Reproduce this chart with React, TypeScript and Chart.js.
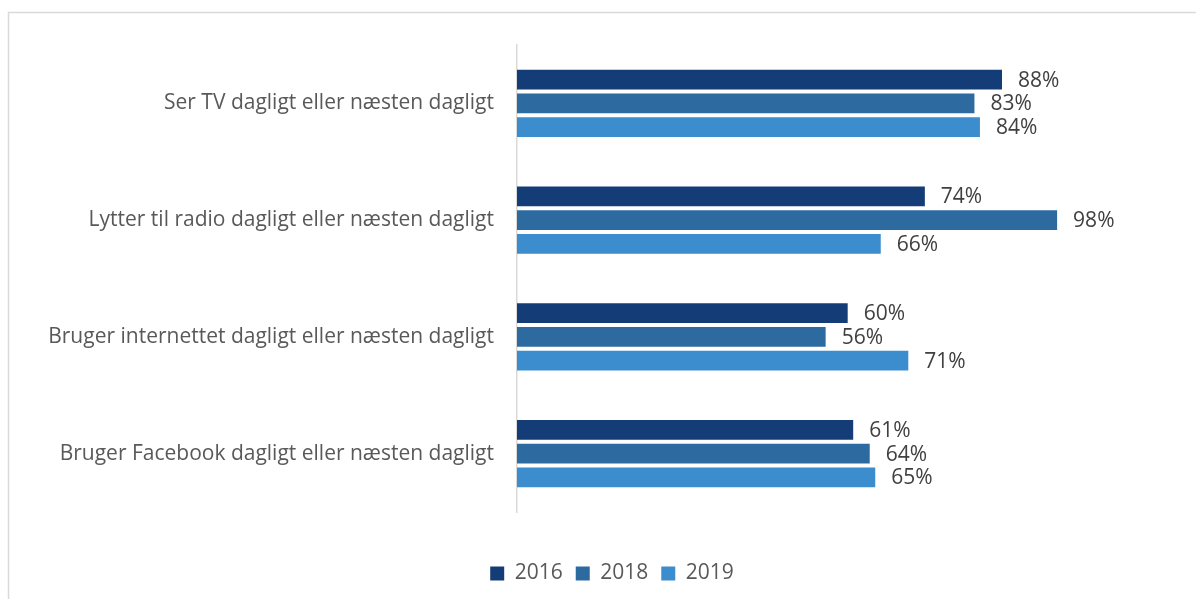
import React, { useEffect, useRef } from "react";
import { Chart, registerables } from "chart.js";

Chart.register(...registerables);

const categories = [
  "Ser TV dagligt eller næsten dagligt",
  "Lytter til radio dagligt eller næsten dagligt",
  "Bruger internettet dagligt eller næsten dagligt",
  "Bruger Facebook dagligt eller næsten dagligt",
];
const seriesNames = ["2016", "2018", "2019"];
const values2016 = [88, 74, 60, 61];
const values2018 = [83, 98, 56, 64];
const values2019 = [84, 66, 71, 65];
const seriesColors = ["#143C77", "#2C6AA0", "#3B8DCD"];

const FONT = "'Open Sans', 'Noto Sans', sans-serif";
const FONT_SIZE = 21;
const X_MAX = 123.2;

const framePlugin = {
  id: "frame",
  beforeDraw(chart: any) {
    const ctx = chart.ctx;
    ctx.save();
    ctx.fillStyle = "#ffffff";
    ctx.fillRect(0, 0, chart.width, chart.height);
    ctx.strokeStyle = "#d9d9d9";
    ctx.lineWidth = 1.5;
    ctx.beginPath();
    ctx.moveTo(8.5, chart.height + 2);
    ctx.lineTo(8.5, 12.5);
    ctx.lineTo(chart.width + 2, 12.5);
    ctx.stroke();
    ctx.restore();
  },
};

const valueLabelPlugin = {
  id: "valueLabels",
  afterDatasetsDraw(chart: any) {
    const ctx = chart.ctx;
    ctx.save();
    ctx.font = `${FONT_SIZE}px ${FONT}`;
    ctx.fillStyle = "#404040";
    ctx.textAlign = "left";
    ctx.textBaseline = "middle";
    chart.data.datasets.forEach((ds: any, i: number) => {
      const meta = chart.getDatasetMeta(i);
      meta.data.forEach((bar: any, j: number) => {
        ctx.fillText(`${ds.data[j]}%`, bar.x + 16, bar.y + 1);
      });
    });
    ctx.restore();
  },
};

export default function App() {
  const ref = useRef<HTMLCanvasElement>(null);
  useEffect(() => {
    if (!ref.current) return;
    const chart = new Chart(ref.current, {
      type: "bar",
      data: {
        labels: categories,
        datasets: [values2016, values2018, values2019].map((d, i) => ({
          label: seriesNames[i],
          data: d,
          backgroundColor: seriesColors[i],
          categoryPercentage: 0.61,
          barPercentage: 0.83,
        })),
      },
      options: {
        indexAxis: "y",
        responsive: false,
        animation: false,
        layout: { padding: { left: 28, top: 45, right: 0, bottom: 5 } },
        scales: {
          x: {
            min: 0,
            max: X_MAX,
            display: true,
            grid: { display: false, drawTicks: false },
            border: { display: false },
            ticks: { display: false },
            afterFit: (scale: any) => {
              scale.height = 38;
            },
          },
          y: {
            grid: { display: false, drawTicks: false },
            border: { display: true, color: "#d9d9d9", width: 1.5 },
            ticks: {
              color: "#595959",
              font: { family: FONT, size: FONT_SIZE },
              padding: 23,
            },
            afterFit: (scale: any) => {
              scale.width = 489;
            },
          },
        },
        plugins: {
          legend: {
            position: "bottom",
            labels: {
              boxWidth: 14,
              boxHeight: 14,
              color: "#595959",
              font: { family: FONT, size: FONT_SIZE },
              padding: 13,
            },
          },
          tooltip: { enabled: false },
        },
      },
      plugins: [framePlugin, valueLabelPlugin],
    });
    return () => chart.destroy();
  }, []);
  return (
    <canvas
      ref={ref}
      width={1196}
      height={599}
      style={{ position: "fixed", left: 0, top: 0, width: 1196, height: 599 }}
    />
  );
}
